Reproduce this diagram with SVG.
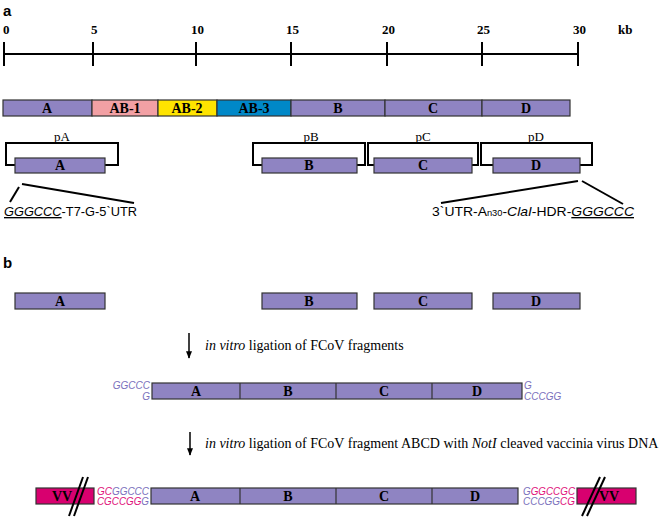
<svg xmlns="http://www.w3.org/2000/svg" width="660" height="519" viewBox="0 0 660 519">
<style>
.pl{font-family:"Liberation Sans",Arial,sans-serif;font-weight:bold;font-size:15px;fill:#000}
.tk{font-family:"Liberation Serif","Times New Roman",serif;font-weight:bold;font-size:13px;fill:#000}
.bx{fill:#8F84C2;stroke:#333;stroke-width:1.2}
.bl{font-family:"Liberation Serif","Times New Roman",serif;font-weight:bold;font-size:14px;fill:#000;text-anchor:middle}
.pt{font-family:"Liberation Serif","Times New Roman",serif;font-size:13px;fill:#000;text-anchor:middle}
.br{fill:none;stroke:#000;stroke-width:2}
.ln{stroke:#000;stroke-width:2}
.sq{font-family:"Liberation Sans",Arial,sans-serif;font-size:13.5px;fill:#000}
.tx{font-family:"Liberation Serif","Times New Roman",serif;font-size:14px;fill:#000}
.es{font-family:"Liberation Sans",Arial,sans-serif;font-style:italic;font-size:10px}
.pu{fill:#7A70BC}
.mg{fill:#E0107A}
.vv{fill:#D8006F;stroke:#333;stroke-width:1.2}
.dv{stroke:#333;stroke-width:1.2}
</style>
<defs>
<marker id="ah" viewBox="0 0 10 10" refX="9" refY="5" markerWidth="5" markerHeight="5" orient="auto"><path d="M0,1 L10,5 L0,9 z" fill="#000"/></marker>
</defs>

<text class="pl" x="3" y="16">a</text>

<g id="scale">
<line class="ln" x1="4" y1="54" x2="578" y2="54" stroke-width="1.5"/>
<g class="ln" stroke-width="1.5">
<line x1="4" y1="42" x2="4" y2="66"/><line x1="93" y1="42" x2="93" y2="66"/><line x1="196" y1="42" x2="196" y2="66"/><line x1="291" y1="42" x2="291" y2="66"/><line x1="387" y1="42" x2="387" y2="66"/><line x1="482" y1="42" x2="482" y2="66"/><line x1="578" y1="42" x2="578" y2="66"/>
</g>
<text class="tk" x="3" y="34">0</text>
<text class="tk" x="91" y="34">5</text>
<text class="tk" x="191" y="34">10</text>
<text class="tk" x="286" y="34">15</text>
<text class="tk" x="382" y="34">20</text>
<text class="tk" x="477" y="34">25</text>
<text class="tk" x="573" y="34">30</text>
<text class="tk" x="618" y="34">kb</text>
</g>

<g id="genome">
<rect class="bx" x="3" y="100" width="89" height="16"/>
<rect x="92" y="100" width="66" height="16" fill="#F2A0A4" stroke="#333" stroke-width="1.2"/>
<rect x="158" y="100" width="59" height="16" fill="#FFE400" stroke="#333" stroke-width="1.2"/>
<rect x="217" y="100" width="74" height="16" fill="#0088C8" stroke="#333" stroke-width="1.2"/>
<rect class="bx" x="291" y="100" width="94" height="16"/>
<rect class="bx" x="385" y="100" width="97" height="16"/>
<rect class="bx" x="482" y="100" width="88" height="16"/>
<text class="bl" x="47" y="113">A</text>
<text class="bl" x="125" y="113">AB-1</text>
<text class="bl" x="187" y="113">AB-2</text>
<text class="bl" x="254" y="113">AB-3</text>
<text class="bl" x="338" y="113">B</text>
<text class="bl" x="433" y="113">C</text>
<text class="bl" x="526" y="113">D</text>
</g>

<g id="pA">
<path class="br" d="M15,165 H6 V143 H118 V165 H105"/>
<rect class="bx" x="15" y="158" width="90" height="15"/>
<text class="bl" x="60" y="170">A</text>
<text class="pt" x="62" y="141">pA</text>
</g>
<g id="pB">
<path class="br" d="M262,165 H253 V143 H365 V165 H357"/>
<rect class="bx" x="262" y="158" width="95" height="15"/>
<text class="bl" x="309" y="170">B</text>
<text class="pt" x="311" y="141">pB</text>
</g>
<g id="pC">
<path class="br" d="M374,165 H368 V143 H478 V165 H472"/>
<rect class="bx" x="374" y="158" width="98" height="15"/>
<text class="bl" x="423" y="170">C</text>
<text class="pt" x="423" y="141">pC</text>
</g>
<g id="pD">
<path class="br" d="M493,165 H481 V143 H592 V165 H580"/>
<rect class="bx" x="493" y="158" width="87" height="15"/>
<text class="bl" x="536" y="170">D</text>
<text class="pt" x="536" y="141">pD</text>
</g>

<g id="connectors">
<line class="ln" x1="10" y1="202" x2="19" y2="187"/>
<line class="ln" x1="22" y1="184" x2="134" y2="203"/>
<line class="ln" x1="441" y1="203" x2="578" y2="181"/>
<line class="ln" x1="582" y1="181" x2="623" y2="204"/>
<line x1="189" y1="333" x2="189" y2="358" stroke="#000" stroke-width="1.5" marker-end="url(#ah)"/>
<line x1="190" y1="432" x2="190" y2="455" stroke="#000" stroke-width="1.5" marker-end="url(#ah)"/>
</g>

<g id="label5">
<text class="sq" x="4" y="216" textLength="133" lengthAdjust="spacingAndGlyphs"><tspan font-style="italic" text-decoration="underline">GGGCCC</tspan>-T7-G-5`UTR</text>
</g>
<g id="label3">
<text class="sq" x="432" y="216" textLength="202" lengthAdjust="spacingAndGlyphs">3`UTR-A<tspan font-size="9">n30</tspan>-<tspan font-style="italic">ClaI</tspan>-HDR-<tspan font-style="italic" text-decoration="underline">GGGCCC</tspan></text>
</g>

<text class="pl" x="3" y="268">b</text>

<g id="fragments">
<rect class="bx" x="15" y="293" width="90" height="16"/>
<text class="bl" x="60" y="306">A</text>
<rect class="bx" x="262" y="293" width="95" height="16"/>
<text class="bl" x="309" y="306">B</text>
<rect class="bx" x="374" y="293" width="98" height="16"/>
<text class="bl" x="423" y="306">C</text>
<rect class="bx" x="493" y="293" width="87" height="16"/>
<text class="bl" x="536" y="306">D</text>
</g>

<text class="tx" x="205" y="350"><tspan font-style="italic">in vitro</tspan> ligation of FCoV fragments</text>

<g id="abcd1">
<rect class="bx" x="152" y="383" width="370" height="16"/>
<line class="dv" x1="240" y1="383" x2="240" y2="399"/>
<line class="dv" x1="336" y1="383" x2="336" y2="399"/>
<line class="dv" x1="432" y1="383" x2="432" y2="399"/>
<text class="bl" x="196" y="396">A</text>
<text class="bl" x="288" y="396">B</text>
<text class="bl" x="384" y="396">C</text>
<text class="bl" x="477" y="396">D</text>
<text class="es pu" x="150" y="389" text-anchor="end">GGCCC</text>
<text class="es pu" x="150" y="400" text-anchor="end">G</text>
<text class="es pu" x="524" y="389">G</text>
<text class="es pu" x="524" y="400">CCCGG</text>
</g>

<text class="tx" x="205" y="448"><tspan font-style="italic">in vitro</tspan> ligation of FCoV fragment ABCD with <tspan font-style="italic">NotI</tspan> cleaved vaccinia virus DNA</text>

<g id="vvleft">
<rect class="vv" x="36" y="488" width="58" height="16"/>
<text class="bl" x="62" y="501" font-size="15">VV</text>
<line class="ln" x1="69" y1="516" x2="83" y2="477" stroke-width="1.5"/>
<line class="ln" x1="74" y1="516" x2="88" y2="477" stroke-width="1.5"/>
<text class="es" x="97" y="495" textLength="52" lengthAdjust="spacingAndGlyphs"><tspan class="mg">GC</tspan><tspan class="pu">GGCCC</tspan></text>
<text class="es" x="97" y="505" textLength="52" lengthAdjust="spacingAndGlyphs"><tspan class="mg">CGCCGG</tspan><tspan class="pu">G</tspan></text>
</g>

<g id="abcd2">
<rect class="bx" x="151" y="488" width="367" height="16"/>
<line class="dv" x1="240" y1="488" x2="240" y2="504"/>
<line class="dv" x1="336" y1="488" x2="336" y2="504"/>
<line class="dv" x1="432" y1="488" x2="432" y2="504"/>
<text class="bl" x="195" y="501">A</text>
<text class="bl" x="288" y="501">B</text>
<text class="bl" x="384" y="501">C</text>
<text class="bl" x="475" y="501">D</text>
</g>

<g id="vvright">
<text class="es" x="523" y="495" textLength="52" lengthAdjust="spacingAndGlyphs"><tspan class="pu">G</tspan><tspan class="mg">GGCCGC</tspan></text>
<text class="es" x="523" y="505" textLength="52" lengthAdjust="spacingAndGlyphs"><tspan class="pu">CCCGG</tspan><tspan class="mg">CG</tspan></text>
<rect class="vv" x="577" y="488" width="59" height="16"/>
<text class="bl" x="609" y="501" font-size="15">VV</text>
<line class="ln" x1="582" y1="516" x2="600" y2="477" stroke-width="1.5"/>
<line class="ln" x1="587" y1="516" x2="605" y2="477" stroke-width="1.5"/>
</g>
</svg>
